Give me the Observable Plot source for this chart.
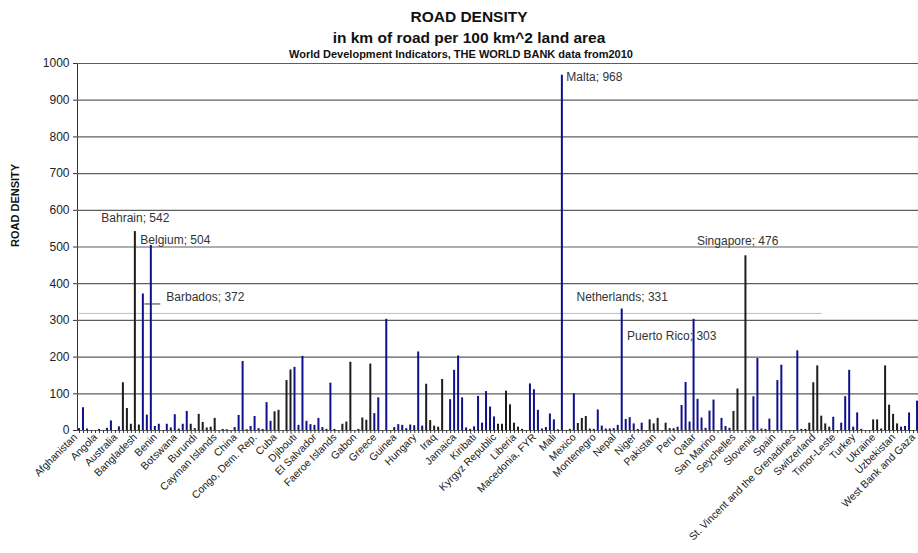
<!DOCTYPE html>
<html>
<head>
<meta charset="utf-8">
<script src="https://cdn.jsdelivr.net/npm/d3@7"></script>
<script src="https://cdn.jsdelivr.net/npm/@observablehq/plot@0.6"></script>
<style>
  html, body { margin: 0; padding: 0; background: #fff; overflow: hidden; width: 918px; height: 553px; }
  #head { position: relative; height: 56px; font-family: "Liberation Sans", Arial, sans-serif; color: #111; }
  .t { position: absolute; white-space: nowrap; transform: translateX(-50%); font-weight: bold; }
  #chart { width: 931px; }
  #chart svg { display: block; overflow: visible; max-width: none !important; width: 931px !important; height: 497px !important; }
  #chart g[aria-label="y-axis tick label"] { font-size: 12px; fill: #222; }
</style>
</head>
<body>
<div id="head">
  <div class="t" style="left:469px; top:8px; font-size:15.5px; line-height:18px;">ROAD DENSITY</div>
  <div class="t" style="left:469px; top:29px; font-size:15.5px; line-height:18px;">in km of road per 100 km^2 land area</div>
  <div class="t" style="left:461px; top:48px; font-size:11px; line-height:12px;">World Development Indicators, THE WORLD BANK data from2010</div>
</div>
<div id="chart"></div>
<script>
const names = ["Afghanistan","Albania","Algeria","American Samoa","Andorra","Angola","Antigua and Barbuda","Argentina","Armenia","Aruba",
"Australia","Austria","Azerbaijan","Bahamas, The","Bahrain","Bangladesh","Barbados","Belarus","Belgium","Belize",
"Benin","Bermuda","Bhutan","Bolivia","Bosnia and Herzegovina","Botswana","Brazil","Brunei Darussalam","Bulgaria","Burkina Faso",
"Burundi","Cambodia","Cameroon","Canada","Cape Verde","Cayman Islands","Central African Republic","Chad","Channel Islands","Chile",
"China","Hong Kong SAR, China","Macao SAR, China","Colombia","Comoros","Congo, Dem. Rep.","Congo, Rep.","Costa Rica","Cote d'Ivoire","Croatia",
"Cuba","Curacao","Cyprus","Czech Republic","Denmark","Djibouti","Dominica","Dominican Republic","Ecuador","Egypt, Arab Rep.",
"El Salvador","Equatorial Guinea","Eritrea","Estonia","Ethiopia","Faeroe Islands","Fiji","Finland","France","French Polynesia",
"Gabon","Gambia, The","Georgia","Germany","Ghana","Greece","Greenland","Grenada","Guam","Guatemala",
"Guinea","Guinea-Bissau","Guyana","Haiti","Honduras","Hungary","Iceland","India","Indonesia","Iran, Islamic Rep.",
"Iraq","Ireland","Isle of Man","Israel","Italy","Jamaica","Japan","Jordan","Kazakhstan","Kenya",
"Kiribati","Korea, Dem. Rep.","Korea, Rep.","Kosovo","Kuwait","Kyrgyz Republic","Lao PDR","Latvia","Lebanon","Lesotho",
"Liberia","Libya","Liechtenstein","Lithuania","Luxembourg","Macedonia, FYR","Madagascar","Malawi","Malaysia","Maldives",
"Mali","Malta","Marshall Islands","Mauritania","Mauritius","Mexico","Micronesia, Fed. Sts.","Moldova","Monaco","Mongolia",
"Montenegro","Morocco","Mozambique","Myanmar","Namibia","Nepal","Netherlands","New Caledonia","New Zealand","Nicaragua",
"Niger","Nigeria","Northern Mariana Islands","Norway","Oman","Pakistan","Palau","Panama","Papua New Guinea","Paraguay",
"Peru","Philippines","Poland","Portugal","Puerto Rico","Qatar","Romania","Russian Federation","Rwanda","Samoa",
"San Marino","Sao Tome and Principe","Saudi Arabia","Senegal","Serbia","Seychelles","Sierra Leone","Singapore","Sint Maarten (Dutch part)","Slovak Republic",
"Slovenia","Solomon Islands","Somalia","South Africa","South Sudan","Spain","Sri Lanka","St. Kitts and Nevis","St. Lucia","St. Martin (French part)",
"St. Vincent and the Grenadines","Sudan","Suriname","Swaziland","Sweden","Switzerland","Syrian Arab Republic","Tajikistan","Tanzania","Thailand",
"Timor-Leste","Togo","Tonga","Trinidad and Tobago","Tunisia","Turkey","Turkmenistan","Turks and Caicos Islands","Tuvalu","Uganda",
"Ukraine","United Arab Emirates","United Kingdom","United States","Uruguay","Uzbekistan","Vanuatu","Venezuela, RB","Vietnam","Virgin Islands (U.S.)",
"West Bank and Gaza","Yemen, Rep.","Zambia","Zimbabwe"];

const values = [5,62,4,null,null,3,null,6,26,null,
10,130,60,17,542,15,372,42,504,11,
17,null,17,7,43,4,17,52,17,5,
44,22,7,9,33,null,3,2,null,8,
41,188,2,11,38,5,3,76,25,51,
55,null,136,165,172,14,202,25,16,14,
33,8,3,129,3,null,17,23,186,null,
3,34,28,181,46,89,null,303,null,8,
16,14,5,15,13,214,12,126,27,12,
9,139,null,84,164,203,89,7,3,10,
93,20,106,64,37,17,17,107,70,20,
9,3,null,127,111,55,4,8,45,29,
2,968,null,3,100,19,33,38,4,3,
56,12,4,4,5,14,331,30,35,18,
3,20,null,29,18,33,null,20,5,5,
9,68,131,23,303,85,34,6,53,83,
null,33,11,6,52,113,null,476,null,92,
196,4,3,31,null,136,178,null,null,null,
217,3,3,20,130,176,39,18,9,36,
null,20,92,164,9,48,3,null,null,29,
29,4,176,69,44,18,9,11,48,null,
80,14,9,25];

const series = ["A","A","A","A","A","A","A","A","A","A",
"A","B","B","B","B","B","A","A","A","A",
"A","A","A","A","A","A","A","A","B","B",
"B","B","B","B","B","A","A","A","A","A",
"A","A","A","A","A","A","A","A","A","B",
"B","B","B","B","A","A","A","A","A","A",
"A","A","A","A","A","A","B","B","B","B",
"B","B","B","B","A","A","A","A","A","A",
"A","A","A","A","A","A","A","B","B","B",
"B","B","A","A","A","A","A","A","A","A",
"A","A","A","A","A","B","B","B","B","B",
"B","B","A","A","A","A","A","A","A","A",
"A","A","B","B","A","B","B","B","B","B",
"A","A","A","A","A","A","A","A","A","A",
"A","A","B","B","B","B","B","B","B","B",
"A","A","A","A","A","A","A","A","A","A",
"A","A","A","A","B","B","B","B","B","A",
"A","A","A","A","A","A","A","A","A","A",
"A","B","B","B","B","B","B","B","B","A",
"A","A","A","A","A","A","A","A","A","B",
"B","B","B","B","B","B","A","A","A","A",
"A","A","A","A"];

const tickLabels = ["Afghanistan","Angola","Australia","Bangladesh","Benin","Botswana","Burundi","Cayman Islands","China","Congo, Dem. Rep.",
"Cuba","Djibouti","El Salvador","Faeroe Islands","Gabon","Greece","Guinea","Hungary","Iraq","Jamaica",
"Kiribati","Kyrgyz Republic","Liberia","Macedonia, FYR","Mali","Mexico","Montenegro","Nepal","Niger","Pakistan",
"Peru","Qatar","San Marino","Seychelles","Slovenia","Spain","St. Vincent and the Grenadines","Switzerland","Timor-Leste","Turkey",
"Ukraine","Uzbekistan","West Bank and Gaza"];

const yTicks = [0,100,200,300,400,500,600,700,800,900,1000];

const highlighted = ["Bahrain","Belgium","Barbados","Malta","Netherlands","Puerto Rico","Singapore"];

const refLine = [{value: 319, from: "Afghanistan", to: "Syrian Arab Republic"}];

const rows = names.map((name, i) => ({name, value: values[i], series: series[i]})).filter(d => d.value != null);
const lab = n => { const r = rows.find(d => d.name === n); return [{name: n, value: r.value, text: `${n}; ${r.value}`}]; };

const font = "Liberation Sans, Arial, sans-serif";
const annot = (n, opts) => Plot.text(lab(n), {x: "name", y: "value", text: "text", fontSize: 12, fill: "#333", fontFamily: font, ...opts});

const chart = Plot.plot({
  width: 931,
  height: 497,
  marginTop: 7,
  marginBottom: 123,
  marginLeft: 77,
  marginRight: 0,
  style: {fontFamily: font, fontSize: "10px", color: "#333", background: "transparent", overflow: "visible"},
  x: {domain: names, paddingInner: 0.5, paddingOuter: 0.25, label: null},
  y: {domain: [0, 1000], ticks: yTicks, tickSize: 4, tickPadding: 4, label: null, line: true, tickFormat: d => String(d)},
  color: {domain: ["A", "B"], range: ["#10108c", "#1c1c1c"]},
  marks: [
    Plot.gridY(yTicks, {stroke: "#5e5e5e", strokeOpacity: 1, strokeWidth: 1.2}),
    Plot.link(refLine, {x1: "from", x2: "to", y1: "value", y2: "value", stroke: "#7a7a7a", strokeWidth: 1, strokeDasharray: "1,1"}),
    Plot.barY(rows, {x: "name", y: "value", fill: "series"}),
    Plot.axisX({ticks: names, tickSize: 3, tickFormat: () => "", label: null}),
    Plot.axisX({ticks: tickLabels, tickSize: 0, tickPadding: 5, tickRotate: -45, dx: -4, label: null, fontSize: 10.5, fill: "#222"}),
    Plot.link(lab("Barbados"), {x1: "name", x2: () => "Benin", y1: "value", y2: "value", dy: 10, dx: 1, stroke: "#333", strokeWidth: 1}),
    annot("Bahrain", {textAnchor: "middle", dy: -13}),
    annot("Belgium", {textAnchor: "start", dx: -11, dy: -5}),
    annot("Barbados", {textAnchor: "start", dx: 23, dy: 3}),
    annot("Malta", {textAnchor: "start", dx: 4, dy: 2}),
    annot("Netherlands", {textAnchor: "middle", dy: -12}),
    annot("Puerto Rico", {textAnchor: "start", dx: -67, dy: 17}),
    annot("Singapore", {textAnchor: "start", dx: -49, dy: -15}),
    Plot.text(["ROAD DENSITY"], {frameAnchor: "left", dx: -62, rotate: -90, fontWeight: "bold", fontSize: 11, fill: "#111", fontFamily: font})
  ]
});
document.getElementById("chart").appendChild(chart);
</script>
</body>
</html>
